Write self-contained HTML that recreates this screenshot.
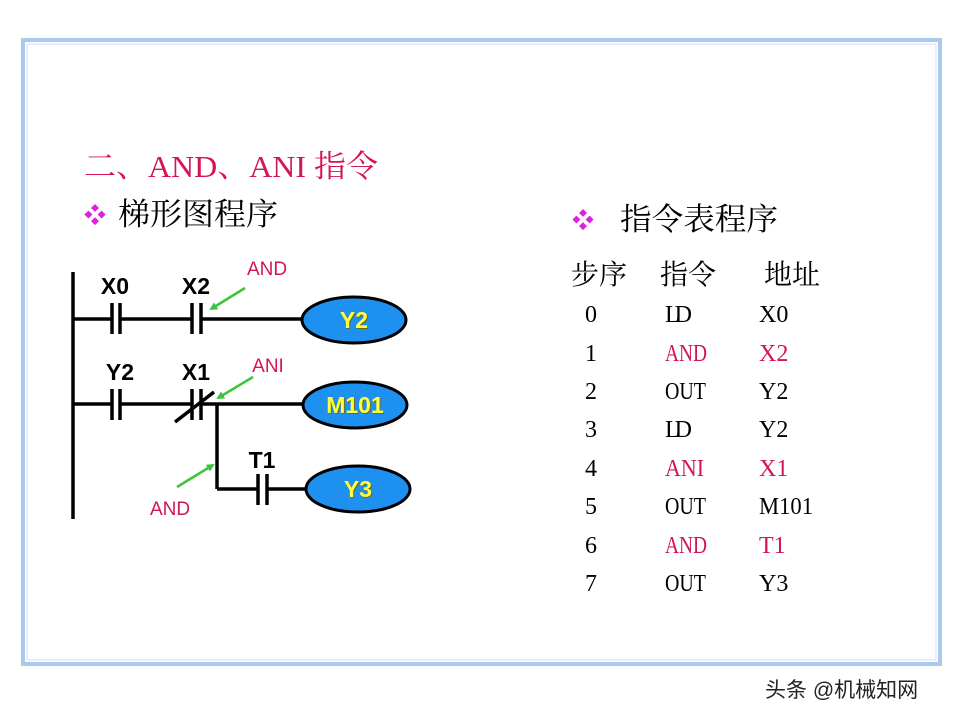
<!DOCTYPE html>
<html><head><meta charset="utf-8"><style>
html,body{margin:0;padding:0;background:#fff;}
svg{display:block}
.s{font-family:"Liberation Serif","Noto Serif CJK SC",serif}
.c{font-family:"Liberation Sans","Noto Sans CJK SC",sans-serif}
</style></head><body>
<svg width="960" height="720" viewBox="0 0 960 720" xmlns="http://www.w3.org/2000/svg">
<defs>
<marker id="ar" markerWidth="8" markerHeight="8" refX="6" refY="4" orient="auto" markerUnits="userSpaceOnUse"><path d="M0,0 L8,4 L0,8 z" fill="#3cc43c"/></marker>
</defs>
<rect x="23" y="40" width="917" height="624" fill="none" stroke="#a9c9ef" stroke-width="4"/>
<rect x="27" y="44" width="909" height="616" fill="none" stroke="#cfe1f5" stroke-width="1"/>
<text x="84" y="177" class="s" font-size="31" fill="#d4145a" textLength="294" lengthAdjust="spacingAndGlyphs">二、AND、ANI 指令</text>
<text x="84" y="223" class="c" font-size="22" fill="#e020e0">❖</text>
<text x="118" y="225" class="s" font-size="31" fill="#000" textLength="160" lengthAdjust="spacingAndGlyphs">梯形图程序</text>
<text x="572" y="228" class="c" font-size="22" fill="#e020e0">❖</text>
<text x="620" y="230" class="s" font-size="31" fill="#000" textLength="158" lengthAdjust="spacingAndGlyphs">指令表程序</text>
<g class="s" font-size="28" fill="#000">
<text x="571" y="284">步序</text><text x="660" y="284">指令</text><text x="764" y="284">地址</text>
</g>
<g class="s" font-size="24" fill="#000">
<text x="585" y="322">0</text><text x="665" y="322" textLength="27">LD</text><text x="759" y="322">X0</text>
<text x="585" y="361">1</text><text x="665" y="361" fill="#d4145a" textLength="42" lengthAdjust="spacingAndGlyphs">AND</text><text x="759" y="361" fill="#d4145a">X2</text>
<text x="585" y="399">2</text><text x="665" y="399" textLength="41" lengthAdjust="spacingAndGlyphs">OUT</text><text x="759" y="399">Y2</text>
<text x="585" y="437">3</text><text x="665" y="437" textLength="27">LD</text><text x="759" y="437">Y2</text>
<text x="585" y="476">4</text><text x="665" y="476" fill="#d4145a" textLength="39" lengthAdjust="spacingAndGlyphs">ANI</text><text x="759" y="476" fill="#d4145a">X1</text>
<text x="585" y="514">5</text><text x="665" y="514" textLength="41" lengthAdjust="spacingAndGlyphs">OUT</text><text x="759" y="514" textLength="54" lengthAdjust="spacingAndGlyphs">M101</text>
<text x="585" y="553">6</text><text x="665" y="553" fill="#d4145a" textLength="42" lengthAdjust="spacingAndGlyphs">AND</text><text x="759" y="553" fill="#d4145a">T1</text>
<text x="585" y="591">7</text><text x="665" y="591" textLength="41" lengthAdjust="spacingAndGlyphs">OUT</text><text x="759" y="591">Y3</text>
</g>
<g stroke="#000" stroke-width="3.5" fill="none">
<line x1="73" y1="272" x2="73" y2="519"/>
<line x1="73" y1="319" x2="112" y2="319"/><line x1="120" y1="319" x2="192" y2="319"/><line x1="201" y1="319" x2="302" y2="319"/>
<line x1="73" y1="404" x2="112" y2="404"/><line x1="120" y1="404" x2="192" y2="404"/><line x1="201" y1="404" x2="303" y2="404"/>
<line x1="217" y1="404" x2="217" y2="489"/><line x1="217" y1="489" x2="258" y2="489"/><line x1="267" y1="489" x2="306" y2="489"/>
<line x1="112" y1="303" x2="112" y2="334"/><line x1="120" y1="303" x2="120" y2="334"/>
<line x1="192" y1="303" x2="192" y2="334"/><line x1="201" y1="303" x2="201" y2="334"/>
<line x1="112" y1="389" x2="112" y2="420"/><line x1="120" y1="389" x2="120" y2="420"/>
<line x1="192" y1="389" x2="192" y2="420"/><line x1="201" y1="389" x2="201" y2="420"/>
<line x1="175" y1="422" x2="214" y2="392"/>
<line x1="258" y1="474" x2="258" y2="505"/><line x1="267" y1="474" x2="267" y2="505"/>
</g>
<g class="c" font-size="23" font-weight="bold" fill="#000" text-anchor="middle">
<text x="115" y="294">X0</text><text x="196" y="294">X2</text>
<text x="120" y="380">Y2</text><text x="196" y="380">X1</text>
<text x="262" y="468">T1</text>
</g>
<g class="c" font-size="19" fill="#d4145a" text-anchor="middle">
<text x="267" y="275">AND</text><text x="268" y="372">ANI</text><text x="170" y="515">AND</text>
</g>
<g stroke="#3cc43c" stroke-width="2.5" marker-end="url(#ar)">
<line x1="245" y1="288" x2="211" y2="309"/>
<line x1="253" y1="377" x2="218" y2="398"/>
<line x1="177" y1="487" x2="213" y2="465"/>
</g>
<g stroke="#000" stroke-width="3" fill="#1e90f0">
<ellipse cx="354" cy="320" rx="52" ry="23"/>
<ellipse cx="355" cy="405" rx="52" ry="23"/>
<ellipse cx="358" cy="489" rx="52" ry="23"/>
</g>
<g class="c" font-size="23" font-weight="bold" text-anchor="middle">
<text x="355" y="329" fill="#6b6b20">Y2</text><text x="354" y="328" fill="#ffff40">Y2</text>
<text x="356" y="414" fill="#6b6b20">M101</text><text x="355" y="413" fill="#ffff40">M101</text>
<text x="359" y="498" fill="#6b6b20">Y3</text><text x="358" y="497" fill="#ffff40">Y3</text>
</g>
<text x="765" y="697" class="c" font-size="21" fill="#222">头条 @机械知网</text>
</svg>
</body></html>
